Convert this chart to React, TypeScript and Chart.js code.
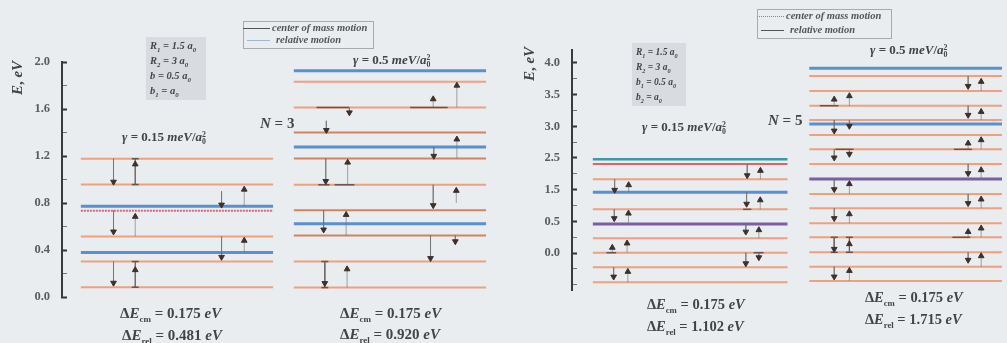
import React, { useEffect, useRef } from "react";
import { Chart, registerables } from "chart.js";

Chart.register(...registerables);

// ---------- axis ticks ----------
const leftMajorTicks = [0, 0.4, 0.8, 1.2, 1.6, 2.0];
const leftMinorTicks = [0.2, 0.6, 1.0, 1.4, 1.8];
const rightTickLabels = ["0.0", "0.5", "1.5", "2.5", "3.0", "3.5", "4.0"];
const rightMinorTicks = [-1.0, -0.5, 0.5, 1.5, 2.5, 3.5, 4.5, 5.5];

// ---------- N = 3, gamma = 0.15 ----------
const p1Orange = [1.177, 0.957, 0.515, 0.302, 0.083];
const p1Red = [0.735];
const p1Blue = [0.772, 0.379];
const p1Arrows: number[][] = [
  [0.17, 1.177, 0.98], [0.17, 0.735, 0.556], [0.17, 0.302, 0.12],
  [0.283, 0.957, 1.13], [0.283, 0.515, 0.684], [0.283, 0.083, 0.23],
  [0.732, 0.9, 0.785], [0.732, 0.515, 0.34],
  [0.85, 0.772, 0.915], [0.85, 0.379, 0.48],
];
const p1IBeams: number[][] = [[0.283, 0.957, 1.177], [0.283, 0.083, 0.302]];
const p1Bars: number[][] = [];

// ---------- N = 3, gamma = 0.5 ----------
const p2Orange = [1.832, 1.613, 0.955, 0.302, 0.08];
const p2DarkOrange = [1.399, 1.179, 0.738, 0.524];
const p2Blue = [1.926, 1.276, 0.624];
const p2Arrows: number[][] = [
  [0.848, 1.613, 1.8], [0.289, 1.613, 1.57], [0.725, 1.613, 1.684],
  [0.169, 1.5, 1.42], [0.848, 1.179, 1.342], [0.728, 1.276, 1.2],
  [0.166, 1.179, 0.986], [0.28, 0.955, 1.145], [0.845, 0.8, 0.905],
  [0.725, 0.955, 0.78], [0.155, 0.738, 0.573], [0.272, 0.524, 0.7],
  [0.84, 0.524, 0.473], [0.711, 0.524, 0.33], [0.161, 0.302, 0.117],
  [0.277, 0.08, 0.237],
];
const p2IBeams: number[][] = [[0.161, 0.08, 0.302]];
const p2Bars: number[][] = [
  [0.118, 0.287, 1.613], [0.605, 0.8, 1.613], [0.127, 0.186, 0.955], [0.212, 0.315, 0.955],
];

// ---------- N = 5, gamma = 0.15 (right axis units) ----------
const p3Orange = [2.327, 1.38, 0.464, 0.01, -0.45, -0.925];
const p3Red = [2.81];
const p3Teal = [2.958];
const p3Blue = [1.917];
const p3Purple = [0.916];
const p3Arrows: number[][] = [
  [0.112, 2.327, 1.99], [0.184, 1.917, 2.147], [0.11, 1.38, 1.095],
  [0.183, 0.916, 1.25], [0.1, 0.01, 0.17], [0.176, 0.01, 0.306],
  [0.107, -0.45, -0.75], [0.18, -0.925, -0.59], [0.793, 2.81, 2.45],
  [0.861, 2.327, 2.6], [0.79, 1.917, 1.55], [0.86, 1.38, 1.67],
  [0.786, 0.916, 0.67], [0.853, 0.464, 0.726], [0.786, 0.01, -0.33],
  [0.853, 0.01, -0.14],
];
const p3IBeams: number[][] = [];
const p3Bars: number[][] = [[0.07, 0.12, 0.01], [0.772, 0.814, 1.38], [0.826, 0.877, 0.01]];

// ---------- N = 5, gamma = 0.5 ----------
const p4Orange = [5.589, 5.115, 4.651, 4.2, 3.726, 3.274, 2.81, 1.863, 1.41, 0.938, 0.496, 0.022, -0.433, -0.884];
const p4Blue = [5.832, 4.073];
const p4Purple = [2.337];
const p4Arrows: number[][] = [
  [0.128, 4.651, 4.85], [0.128, 4.2, 3.86], [0.128, 3.274, 3.01], [0.128, 2.337, 2.01],
  [0.128, 1.41, 1.096], [0.128, 0.496, 0.126], [0.128, -0.433, -0.748],
  [0.206, 4.651, 4.957], [0.206, 4.2, 4.01], [0.206, 3.274, 3.126], [0.206, 1.863, 2.18],
  [0.206, 0.938, 1.23], [0.206, 0.022, 0.284], [0.206, -0.884, -0.56],
  [0.816, 5.589, 5.27], [0.816, 4.651, 4.357], [0.816, 3.274, 3.464], [0.816, 2.81, 2.516],
  [0.816, 1.863, 1.57], [0.816, 0.496, 0.67], [0.816, 0.022, -0.22],
  [0.883, 5.115, 5.41], [0.883, 4.2, 4.46], [0.883, 3.274, 3.568], [0.883, 2.337, 2.62],
  [0.883, 1.41, 1.695], [0.883, 0.496, 0.78], [0.883, -0.433, -0.095],
];
const p4IBeams: number[][] = [[0.128, 0.022, 0.496], [0.206, 0.022, 0.496]];
const p4Bars: number[][] = [
  [0.054, 0.15, 4.651], [0.134, 0.227, 3.274], [0.743, 0.836, 3.274], [0.735, 0.827, 0.496],
];

// ---------- styles ----------
const ORANGE = "#efa07e";
const DARK_ORANGE = "#cf8462";
const BLUE = "#5a8fd2";
const PURPLE = "#7c5ea4";
const RED = "#d9666a";
const TEAL = "#3f9aa0";
const HEAD = "#3e302c";
const STEM = "rgba(110,110,110,0.6)";
const BRACKET = "#6e5148";
const SERIF = '"Liberation Serif", "DejaVu Serif", serif';

type PanelSpec = {
  x0: number;
  levels: { values: number[]; color: string; width: number; dash?: number[] }[];
  arrows: number[][];
  ibeams: number[][];
  bars: number[][];
};

function panelDatasets(p: PanelSpec) {
  const out: any[] = [];
  p.arrows.forEach(([f, from, to]) => {
    out.push({
      data: [{ x: p.x0 + f, y: from }, { x: p.x0 + f, y: to }],
      borderColor: STEM,
      borderWidth: 1,
      pointRadius: [0, 3.3],
      pointHoverRadius: 0,
      pointStyle: "triangle",
      pointRotation: to > from ? 0 : 180,
      pointBackgroundColor: HEAD,
      pointBorderColor: HEAD,
      pointBorderWidth: 1,
    });
  });
  p.ibeams.forEach(([f, lo, hi]) => {
    out.push({
      data: [{ x: p.x0 + f, y: lo }, { x: p.x0 + f, y: hi }],
      borderColor: BRACKET,
      borderWidth: 1.2,
      pointRadius: 3.5,
      pointHoverRadius: 0,
      pointStyle: "line",
      pointBorderColor: BRACKET,
      pointBorderWidth: 1.5,
    });
  });
  p.bars.forEach(([a, b, y]) => {
    out.push({
      data: [{ x: p.x0 + a, y }, { x: p.x0 + b, y }],
      borderColor: BRACKET,
      borderWidth: 1.5,
      pointRadius: 0,
    });
  });
  p.levels.forEach((lv) => {
    lv.values.forEach((v) => {
      out.push({
        data: [{ x: p.x0, y: v }, { x: p.x0 + 1, y: v }],
        borderColor: lv.color,
        borderWidth: lv.width,
        borderDash: lv.dash || [],
        pointRadius: 0,
      });
    });
  });
  return out;
}

type ChartSpec = {
  width: number;
  left: number;
  axisWidth: number;
  top: number;
  bottom: number;
  xMin: number;
  xMax: number;
  yMin: number;
  yMax: number;
  majorTicks: number[];
  minorTicks: number[];
  label: (v: number) => string;
  panels: PanelSpec[];
};

function LevelChart({ spec }: { spec: ChartSpec }) {
  const ref = useRef<HTMLCanvasElement>(null);
  useEffect(() => {
    const datasets = spec.panels.flatMap(panelDatasets);
    const isMajor = (v: number) => spec.majorTicks.some((m) => Math.abs(m - v) < 1e-6);
    const chart = new Chart(ref.current!, {
      type: "line",
      data: { datasets },
      options: {
        animation: false,
        responsive: false,
        maintainAspectRatio: false,
        events: [],
        layout: { padding: { top: spec.top, bottom: spec.bottom, left: 0, right: 0 } },
        plugins: { legend: { display: false }, tooltip: { enabled: false } },
        scales: {
          x: { type: "linear", display: false, min: spec.xMin, max: spec.xMax },
          y: {
            type: "linear",
            position: "left",
            min: spec.yMin,
            max: spec.yMax,
            afterBuildTicks: (s: any) => {
              s.ticks = [...spec.majorTicks, ...spec.minorTicks]
                .sort((a, b) => a - b)
                .map((v) => ({ value: v }));
            },
            afterFit: (s: any) => {
              s.width = spec.axisWidth;
            },
            ticks: {
              autoSkip: false,
              padding: 17,
              color: "#5c5c5c",
              font: { family: SERIF, size: 12.5, weight: "bold" },
              callback: (v: any) => (isMajor(Number(v)) ? spec.label(Number(v)) : ""),
            },
            grid: {
              drawOnChartArea: false,
              drawTicks: true,
              tickLength: -5,
              tickColor: (c: any) => (isMajor(c.tick?.value) ? "#333" : "#777"),
              tickWidth: (c: any) => (isMajor(c.tick?.value) ? 2 : 1),
            },
            border: { display: true, color: "#3a3a3a", width: 2 },
          },
        },
      } as any,
    });
    return () => chart.destroy();
  }, []);
  return (
    <canvas
      ref={ref}
      width={spec.width}
      height={343}
      style={{ position: "absolute", left: spec.left, top: 0, width: spec.width, height: 343 }}
    />
  );
}

const leftSpec: ChartSpec = {
  width: 503,
  left: 0,
  axisWidth: 62,
  top: 62,
  bottom: 46,
  xMin: -0.098,
  xMax: 2.17,
  yMin: 0,
  yMax: 2.0,
  majorTicks: leftMajorTicks,
  minorTicks: leftMinorTicks,
  label: (v) => v.toFixed(1),
  panels: [
    {
      x0: 0,
      levels: [
        { values: p1Orange, color: ORANGE, width: 2 },
        { values: p1Red, color: RED, width: 2, dash: [2, 1] },
        { values: p1Blue, color: BLUE, width: 3 },
      ],
      arrows: p1Arrows,
      ibeams: p1IBeams,
      bars: p1Bars,
    },
    {
      x0: 1.108,
      levels: [
        { values: p2Orange, color: ORANGE, width: 2 },
        { values: p2DarkOrange, color: DARK_ORANGE, width: 2 },
        { values: p2Blue, color: BLUE, width: 3 },
      ],
      arrows: p2Arrows,
      ibeams: p2IBeams,
      bars: p2Bars,
    },
  ],
};

const rightSpec: ChartSpec = {
  width: 504,
  left: 503,
  axisWidth: 69,
  top: 50,
  bottom: 53,
  xMin: -0.107,
  xMax: 2.102,
  yMin: -1.168,
  yMax: 6.41,
  majorTicks: [0, 1, 2, 3, 4, 5, 6],
  minorTicks: rightMinorTicks,
  label: (v) => rightTickLabels[Math.round(v)] ?? "",
  panels: [
    {
      x0: 0,
      levels: [
        { values: p3Orange, color: ORANGE, width: 2 },
        { values: p3Red, color: RED, width: 2 },
        { values: p3Teal, color: TEAL, width: 2.5 },
        { values: p3Blue, color: BLUE, width: 3 },
        { values: p3Purple, color: PURPLE, width: 3 },
      ],
      arrows: p3Arrows,
      ibeams: p3IBeams,
      bars: p3Bars,
    },
    {
      x0: 1.112,
      levels: [
        { values: p4Orange, color: ORANGE, width: 2 },
        { values: p4Blue, color: BLUE, width: 3 },
        { values: p4Purple, color: PURPLE, width: 3 },
      ],
      arrows: p4Arrows,
      ibeams: p4IBeams,
      bars: p4Bars,
    },
  ],
};

// ---------- text helpers ----------
const T = ({ x, y, size, children, style }: any) => (
  <div
    style={{
      position: "absolute",
      left: x,
      top: y - size * 0.55,
      fontSize: size,
      lineHeight: 1.1,
      whiteSpace: "nowrap",
      fontFamily: SERIF,
      fontWeight: "bold",
      color: "#444",
      ...style,
    }}
  >
    {children}
  </div>
);

const A0sq = () => (
  <>
    <i>a</i>
    <span style={{ display: "inline-block", verticalAlign: "-0.35em", fontSize: "0.6em", lineHeight: 0.9 }}>
      <span style={{ display: "block" }}>2</span>
      <span style={{ display: "block" }}>0</span>
    </span>
  </>
);

const Gamma = ({ x, y, val }: any) => (
  <T x={x} y={y} size={13}>
    <i>γ</i> = {val} <i>meV</i>/<A0sq />
  </T>
);

const DeltaE = ({ x, y, sub, val, size }: any) => (
  <T x={x} y={y} size={size || 15}>
    Δ<i>E</i>
    <sub style={{ fontSize: "0.6em" }}>{sub}</sub> = {val} <i>eV</i>
  </T>
);

const YTitle = ({ cx, cy }: any) => (
  <div
    style={{
      position: "absolute",
      left: cx - 30,
      top: cy - 9,
      width: 60,
      height: 18,
      textAlign: "center",
      transform: "rotate(-90deg)",
      fontFamily: SERIF,
      fontWeight: "bold",
      fontSize: 15,
      lineHeight: "18px",
      color: "#444",
      whiteSpace: "nowrap",
    }}
  >
    <i>E</i>, <i>eV</i>
  </div>
);

const Sub = ({ c }: any) => <sub style={{ fontSize: "0.65em" }}>{c}</sub>;

const ParamBox = ({ x, y, w, h, lines, size }: any) => (
  <>
    <div style={{ position: "absolute", left: x, top: y, width: w, height: h, background: "rgba(185,190,196,0.35)" }} />
    {lines.map((l: any, i: number) => (
      <T key={i} x={x + 4} y={y + 9 + i * 15} size={size} style={{ fontStyle: "italic" }}>
        {l}
      </T>
    ))}
  </>
);

const Legend = ({ x, y, w, h, l1, l2 }: any) => (
  <>
    <div style={{ position: "absolute", left: x, top: y, width: w, height: h, border: "1px solid #aaa" }} />
    <div style={{ position: "absolute", left: x, top: y + 7, width: 27, height: 0, borderTop: l1 }} />
    <div style={{ position: "absolute", left: x + 4, top: y + h - 7, width: 23, height: 0, borderTop: l2 }} />
    <T x={x + 29} y={y + 7} size={10.5} style={{ fontStyle: "italic", color: "#555" }}>center of mass motion</T>
    <T x={x + 33} y={y + h - 7} size={10.5} style={{ fontStyle: "italic", color: "#555" }}>relative motion</T>
  </>
);

export default function App() {
  return (
    <div
      style={{
        position: "fixed",
        left: 0,
        top: 0,
        width: 1007,
        height: 343,
        overflow: "hidden",
        background: "#e9edf0",
      }}
    >
      <LevelChart spec={leftSpec} />
      <LevelChart spec={rightSpec} />

      {/* left figure, N = 3 */}
      <YTitle cx={17} cy={78} />
      <ParamBox
        x={146}
        y={37}
        w={60}
        h={63}
        size={10.5}
        lines={[
          <>R<Sub c="1" /> = 1.5 a<Sub c="0" /></>,
          <>R<Sub c="2" /> = 3 a<Sub c="0" /></>,
          <>b = 0.5 a<Sub c="0" /></>,
          <>b<Sub c="1" /> = a<Sub c="0" /></>,
        ]}
      />
      <Legend x={243} y={21} w={129} h={26} l1="1.5px solid #555" l2="1.5px solid #9fb6d4" />
      <Gamma x={122} y={137} val="0.15" />
      <Gamma x={353} y={60} val="0.5" />
      <T x={260} y={123} size={15}><i>N</i> = 3</T>
      <DeltaE x={120} y={313} sub="cm" val="0.175" />
      <DeltaE x={122} y={335} sub="rel" val="0.481" />
      <DeltaE x={340} y={313} sub="cm" val="0.175" />
      <DeltaE x={340} y={334} sub="rel" val="0.920" />

      {/* right figure, N = 5 */}
      <YTitle cx={529} cy={64} />
      <ParamBox
        x={632}
        y={43}
        w={54}
        h={63}
        size={9.5}
        lines={[
          <>R<Sub c="1" /> = 1.5 a<Sub c="0" /></>,
          <>R<Sub c="2" /> = 3 a<Sub c="0" /></>,
          <>b<Sub c="1" /> = 0.5 a<Sub c="0" /></>,
          <>b<Sub c="2" /> = a<Sub c="0" /></>,
        ]}
      />
      <Legend x={757} y={9} w={133} h={28} l1="1.5px dotted #d9666a" l2="1.5px solid #555" />
      <Gamma x={642} y={127} val="0.15" />
      <Gamma x={870} y={50} val="0.5" />
      <T x={768} y={120} size={15}><i>N</i> = 5</T>
      <DeltaE x={647} y={305} sub="cm" val="0.175" size={14.5} />
      <DeltaE x={647} y={327} sub="rel" val="1.102" size={14.5} />
      <DeltaE x={865} y={298} sub="cm" val="0.175" size={14.5} />
      <DeltaE x={865} y={320} sub="rel" val="1.715" size={14.5} />
    </div>
  );
}
